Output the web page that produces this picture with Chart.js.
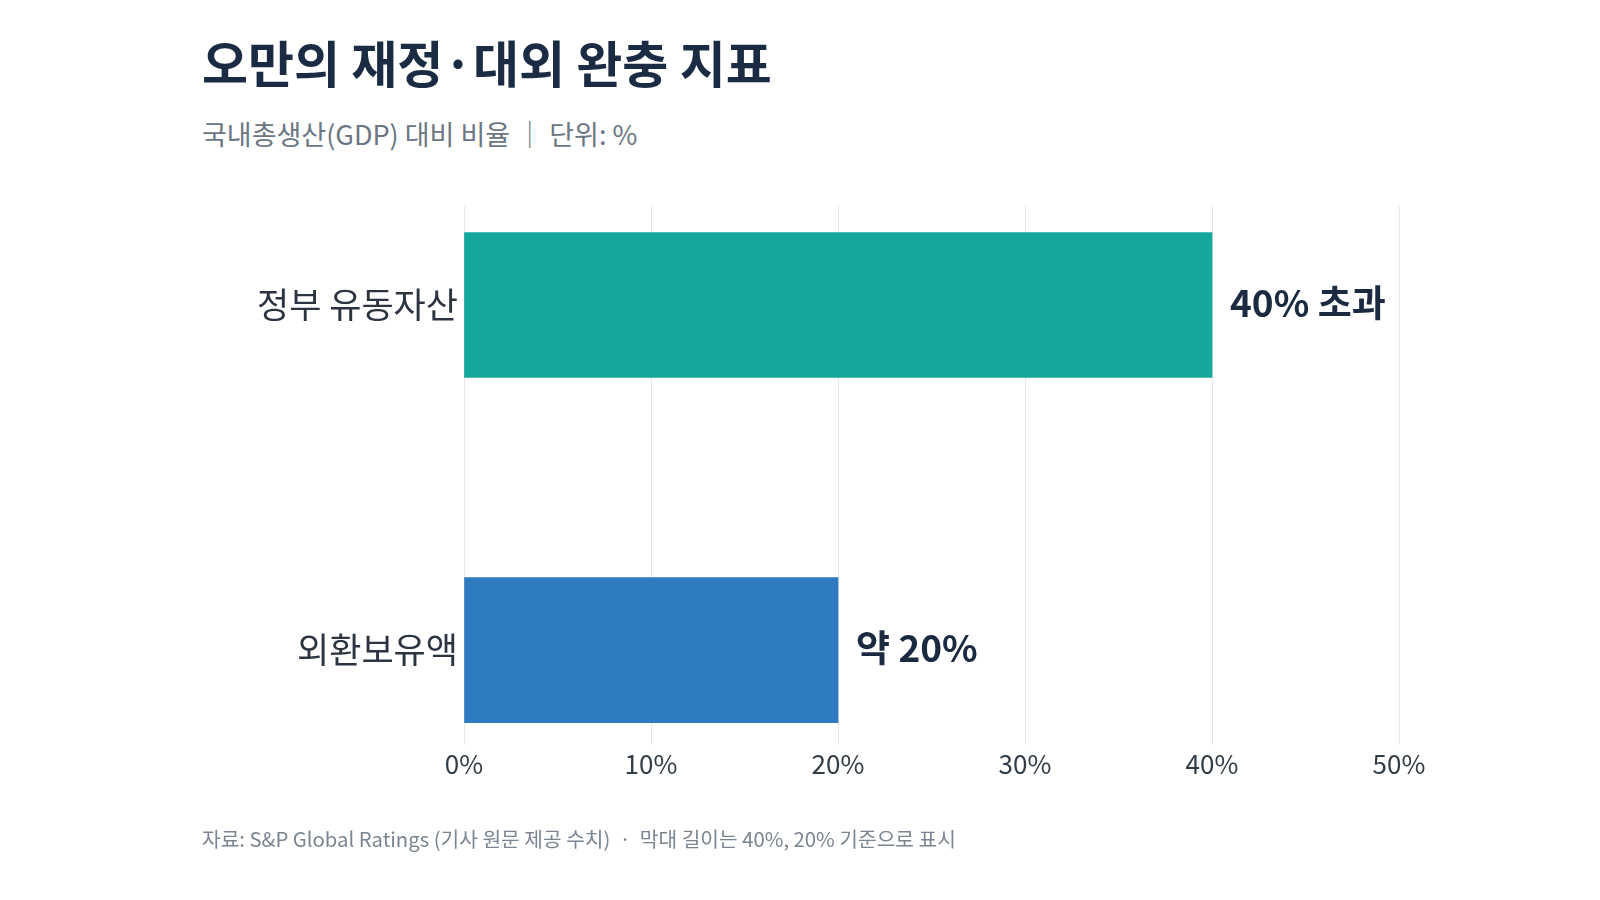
<!DOCTYPE html>
<html>
    <head>
        <meta charset="utf-8">
        <script src="https://cdn.jsdelivr.net/npm/chart.js"></script>
        <title>오만의 재정·대외 완충 지표</title>
        <style>
            html, body { margin: 0; padding: 0; background: #ffffff; }
            body {
                width: 1600px; height: 900px; position: relative; overflow: hidden;
                font-family: "Noto Sans CJK KR", "Noto Sans", sans-serif;
            }
            .title {
                position: absolute; left: 202px; top: 36px;
                font-size: 50px; line-height: 50px; font-weight: 700; color: #1b2b44;
                white-space: nowrap;
            }
            .subtitle {
                position: absolute; left: 202px; top: 120px;
                font-size: 27px; line-height: 27px; color: #6b7683;
                white-space: nowrap;
            }
            .source {
                position: absolute; left: 202px; top: 828px;
                font-size: 20.3px; line-height: 21px; color: #7a8591;
                white-space: nowrap;
            }
            #chartWrapper { position: absolute; left: 0; top: 0; width: 1600px; height: 900px; }
        </style>
    </head>
    <body>
        <div class="title">오만의 재정·대외 완충 지표</div>
        <div class="subtitle">국내총생산(GDP) 대비 비율 ｜ 단위: %</div>

        <div id="chartWrapper">
            <canvas id="myChart" width="1600" height="900"></canvas>
        </div>

        <div class="source">자료: S&amp;P Global Ratings (기사 원문 제공 수치) &nbsp;·&nbsp; 막대 길이는 40%, 20% 기준으로 표시</div>

        <script>
            // chart data
            const categories = ['정부 유동자산', '외환보유액'];
            const values = [40, 20];
            const valueLabels = ['40% 초과', '약 20%'];
            const xTicks = [0, 10, 20, 30, 40, 50];

            const barColors = ['#14a89d', '#2f7bbf'];
            const fontFamily = '"Noto Sans CJK KR", "Noto Sans", sans-serif';

            // labels at the end of each bar
            const valueLabelPlugin = {
                id: 'valueLabels',
                afterDatasetsDraw(chart) {
                    const ctx = chart.ctx;
                    const meta = chart.getDatasetMeta(0);
                    ctx.save();
                    ctx.font = '700 37px ' + fontFamily;
                    ctx.fillStyle = '#1b2a41';
                    ctx.textAlign = 'left';
                    ctx.textBaseline = 'middle';
                    meta.data.forEach(function (bar, i) {
                        ctx.fillText(valueLabels[i], bar.x + 18, bar.y - 2);
                    });
                    ctx.restore();
                }
            };

            const ctx = document.getElementById('myChart').getContext('2d');

            const myChart = new Chart(ctx, {
                type: 'bar',
                plugins: [valueLabelPlugin],
                data: {
                    datasets: [
                        {
                            data: categories.map(function (c, i) { return {x: values[i], y: i}; }),
                            backgroundColor: barColors,
                            borderWidth: 0,
                            barThickness: 145
                        }
                    ]
                },
                options: {
                    indexAxis: 'y',
                    responsive: false,
                    animation: false,
                    layout: {
                        padding: {top: 206, right: 201, bottom: 95, left: 0}
                    },
                    plugins: {
                        legend: {display: false},
                        tooltip: {enabled: false}
                    },
                    scales: {
                        x: {
                            type: 'linear',
                            min: 0,
                            max: 50,
                            border: {display: false},
                            grid: {color: '#e6e8eb', lineWidth: 1, drawTicks: false},
                            afterBuildTicks: function (scale) {
                                scale.ticks = xTicks.map(function (v) { return {value: v}; });
                            },
                            afterFit: function (scale) { scale.height = 60; },
                            ticks: {
                                padding: 4,
                                color: '#333d48',
                                font: {family: fontFamily, size: 26},
                                callback: function (value) { return value + '%'; }
                            }
                        },
                        y: {
                            type: 'linear',
                            offset: false,
                            reverse: true,
                            min: -0.287,
                            max: 1.275,
                            border: {display: false},
                            grid: {display: false, drawTicks: false, offset: false},
                            afterBuildTicks: function (scale) {
                                scale.ticks = categories.map(function (c, i) { return {value: i}; });
                            },
                            afterFit: function (scale) { scale.width = 464; },
                            ticks: {
                                padding: 6,
                                color: '#2b3440',
                                font: {family: fontFamily, size: 35},
                                callback: function (value) { return categories[value]; }
                            }
                        }
                    }
                }
            });
        </script>
    </body>
</html>
